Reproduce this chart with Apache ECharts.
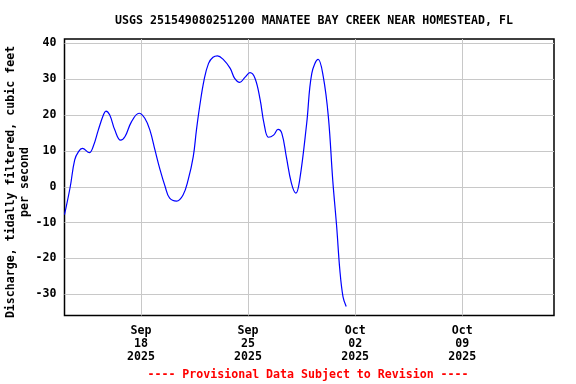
<!DOCTYPE html>
<html>
<head>
<meta charset="utf-8">
<script src="https://cdn.jsdelivr.net/npm/echarts@6/dist/echarts.min.js"></script>
<style>html,body{margin:0;padding:0;background:#fff}#c{width:576px;height:384px}</style>
</head>
<body>
<div id="c"></div>
<script>
var times = [
 '2025-09-13 00:00','2025-09-13 09:00','2025-09-13 16:00','2025-09-13 22:00','2025-09-14 04:00',
 '2025-09-14 15:00','2025-09-14 21:00','2025-09-15 05:00','2025-09-15 13:00','2025-09-15 17:00',
 '2025-09-15 23:00','2025-09-16 07:00','2025-09-16 16:00','2025-09-16 23:00','2025-09-17 09:00',
 '2025-09-17 21:00','2025-09-18 06:00','2025-09-18 14:00','2025-09-18 22:00','2025-09-19 06:00',
 '2025-09-19 14:00','2025-09-19 21:00','2025-09-20 08:00','2025-09-20 18:00','2025-09-21 02:00',
 '2025-09-21 10:00','2025-09-21 15:00','2025-09-21 20:00','2025-09-22 03:00','2025-09-22 10:00',
 '2025-09-22 17:00','2025-09-23 00:00','2025-09-23 09:00','2025-09-23 20:00','2025-09-24 03:00',
 '2025-09-24 11:00','2025-09-24 19:00','2025-09-25 03:00','2025-09-25 11:00','2025-09-25 19:00',
 '2025-09-26 01:00','2025-09-26 08:00','2025-09-26 16:00','2025-09-26 23:00','2025-09-27 05:00',
 '2025-09-27 12:00','2025-09-27 20:00','2025-09-28 03:00','2025-09-28 09:00','2025-09-28 20:00',
 '2025-09-29 04:00','2025-09-29 14:00','2025-09-29 22:00','2025-09-30 06:00','2025-09-30 13:00',
 '2025-09-30 19:00','2025-10-01 00:00','2025-10-01 05:00','2025-10-01 10:00'
];
var discharge = [
 -7.8, 0.0, 7.5, 9.8, 10.7,
 9.5, 11.2, 15.8, 20.0, 21.1,
 20.0, 15.8, 13.0, 14.0, 18.1,
 20.5, 19.1, 15.8, 10.2, 4.7,
 0.0, -3.2, -4.0, -2.3, 1.9,
 8.4, 15.8, 22.3, 29.8, 34.4,
 36.1, 36.5, 35.5, 33.0, 30.2,
 29.1, 30.5, 31.8, 30.2, 24.2,
 17.7, 13.8, 14.4, 16.0, 14.9,
 8.4, 1.0, -1.8, 1.9, 17.7,
 31.6, 35.5, 30.7, 19.5, 1.5,
 -11.1, -23.2, -30.7, -33.4
];
var yTicks = [-30, -20, -10, 0, 10, 20, 30, 40];
var xTickDates = ['2025-09-18', '2025-09-25', '2025-10-02', '2025-10-09'];
var titleText = 'USGS 251549080251200 MANATEE BAY CREEK NEAR HOMESTEAD, FL';
var yName = 'Discharge, tidally filtered, cubic feet\nper second';
var footer = '---- Provisional Data Subject to Revision ----';

function ts(s) {
  var p = s.split(/[- :]/);
  return Date.UTC(+p[0], +p[1] - 1, +p[2], +(p[3] || 0), +(p[4] || 0));
}
var MON = ['Jan','Feb','Mar','Apr','May','Jun','Jul','Aug','Sep','Oct','Nov','Dec'];
var FONT = 'DejaVu Sans Mono';
var data = times.map(function (t, i) { return [ts(t), discharge[i]]; });
var xTicks = xTickDates.map(ts);

var chart = echarts.init(document.getElementById('c'), null, {renderer: 'canvas'});
chart.setOption({
  animation: false,
  backgroundColor: '#fff',
  title: {
    text: titleText, left: 309, top: 10, textAlign: 'center',
    textStyle: {fontFamily: FONT, fontWeight: 'bold', fontSize: 11.6, color: '#000'}
  },
  graphic: [
    {type: 'text', x: 18, y: 182, rotation: Math.PI / 2,
     style: {text: yName, fontFamily: FONT, fontWeight: 'bold', fontSize: 11.6, fill: '#000',
             align: 'center', verticalAlign: 'middle', lineHeight: 14}},
    {type: 'text', x: 308, y: 375,
     style: {text: footer, fontFamily: FONT, fontWeight: 'bold', fontSize: 11.6, fill: '#ff0000',
             align: 'center', verticalAlign: 'middle'}}
  ],
  grid: {left: 64.5, top: 39, right: 22, bottom: 68.5, show: true, borderColor: '#000', borderWidth: 1.5, backgroundColor: 'transparent'},
  xAxis: {
    type: 'value',
    min: ts('2025-09-13 00:00'), max: ts('2025-10-15 00:00'),
    axisLine: {show: false}, axisTick: {show: false, customValues: xTicks},
    splitLine: {show: true, lineStyle: {color: '#c8c8c8', width: 1}},
    axisLabel: {
      customValues: xTicks, margin: 9, lineHeight: 13,
      fontFamily: FONT, fontWeight: 'bold', fontSize: 11.6, color: '#000',
      formatter: function (v) {
        var d = new Date(v);
        var dd = d.getUTCDate();
        return MON[d.getUTCMonth()] + '\n' + (dd < 10 ? '0' + dd : dd) + '\n' + d.getUTCFullYear();
      }
    }
  },
  yAxis: {
    type: 'value', min: -35.9, max: 41.2,
    axisLine: {show: false}, axisTick: {show: false, customValues: yTicks},
    splitLine: {show: true, lineStyle: {color: '#c8c8c8', width: 1}},
    axisLabel: {customValues: yTicks, margin: 8, fontFamily: FONT, fontWeight: 'bold', fontSize: 11.6, color: '#000'}
  },
  series: [{
    type: 'line', data: data, showSymbol: false, smooth: 0.4,
    lineStyle: {color: '#0000ff', width: 1.2}
  }]
});
</script>
</body>
</html>
